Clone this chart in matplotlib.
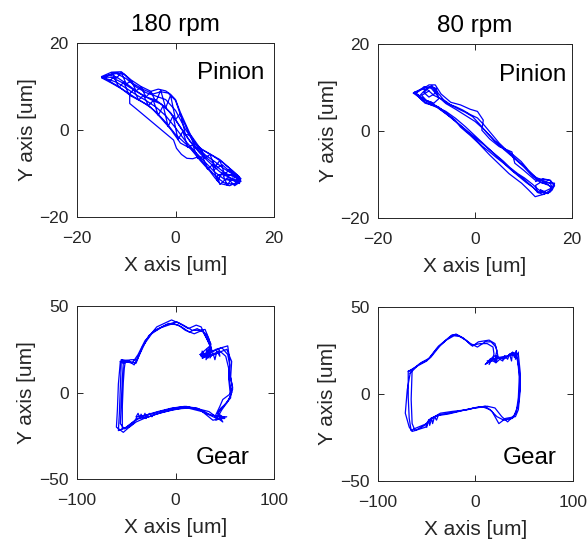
import matplotlib
matplotlib.use("Agg")
import matplotlib.pyplot as plt

plt.rcParams['font.family'] = ['Liberation Sans', 'DejaVu Sans']

GAP = float('nan')  # pen-up between recorded segments

# Pinion orbit, 180 rpm (several revolutions, um)
pin180_x = [-15, -13, -11, -9, -7, -5, -3.5, -2, -1, 0, 1, 2, 3, 5, 7, 9, 11, 13, 12.5, 11, 9, 8, 7, 5, 3, 1, -1, -3, -5, -7, -9, -11, -13, -15,
            -14, -12, -10, -8, -6, -4, -2, 0, 2, 4, 6, 8, 10, 12, 13, 12, 10, 8, 6, 4, 2, 0, -2, -4, -6, -8, -10, -12, -14,
            -15, -13.5, -12, -10, -8, -6, -4, -2, 0, 1.5, 3, 4.5, 6, 8, 10, 12, 13.2, 12, 10, 8.5, 7, 5.5, 4, 2, 0, -2, -4, -6, -8, -10, -12, -14, -15,
            -14.5, -12.5, -10.5, -8.5, -6.5, -4.5, -3, -1.5, 0, 1, 2.5, 4, 5.5, 7.5, 9.5, 11.5, 13.3, 12.5, 11, 9, 7, 5, 3, 1, -1, -3, -5, -7, -9, -11, -13, -14.5, GAP,
            -13, -12, -11, -10, -9, -8, -7, -6, -5, -4, -3, -2, -1, 0, 1, 2, 3, 4, 5, 6, 7, 8, 9, 10, 11, 12, GAP,
            12.5, 11.5, 10.5, 9.5, 8.5, 7.5, 6.5, 5.5, 4.5, 3.5, 2.5, 1.5, 0.5, -0.5, -1.5, -2.5, -3.5, -4.5, -5.5, -6.5, -7.5, -8.5, -9.5, -10.5, -11.5, -12.5, -13.5, GAP,
            8, 9.5, 11, 12.5, 13.3, 12, 10.5, 9, 8.5, 10, 11.5, 13, 12, 10, GAP,
            -9.3, -9.3, -8, -6, -4, -2, -0.4, 0.2, 1.2, 2.3, 3.5, 4.5]
pin180_y = [12.3, 13.3, 13.4, 11.5, 10, 8.9, 9.4, 9, 8.2, 7, 4, 1.5, -1, -4.2, -5.5, -6.8, -8.8, -10.8, -12, -12.8, -12.3, -11, -9.5, -7, -4.2, -3, 0.2, 2.8, 5.2, 6.6, 7.8, 9.5, 10.8, 12,
            12.5, 13, 11.8, 9.9, 8.6, 7.8, 7, 4.5, 0.2, -3.3, -5.7, -7.3, -9, -10.4, -11, -11.6, -11.4, -9.7, -7.4, -5, -2.5, 0.5, 3.3, 5.3, 6.8, 8.1, 9.6, 11, 11.8,
            12.1, 12.6, 12.2, 10.7, 9, 7.6, 6.9, 5.2, 2.4, -0.2, -2.6, -4.4, -6.1, -8, -9.9, -10.8, -11.6, -12.5, -12.2, -11, -9.2, -7.3, -5.2, -3.1, -1, 1.8, 4.2, 6, 7.3, 8.8, 10.3, 11.6, 12.1,
            12, 13.2, 12.9, 10.6, 9.3, 8.3, 8.8, 8.5, 6.8, 3.5, -0.2, -3, -4.6, -5.9, -7.4, -9.3, -11.2, -11.8, -11, -9.6, -7.6, -5.4, -2.7, 0.6, 4, 6, 7, 8.2, 9.6, 11, 12.1, 12.2, GAP,
            13.1, 11.9, 13.2, 10.6, 11.3, 9, 9.9, 7.6, 8.8, 6.5, 9.1, 5.1, 8, 2.4, 3.8, -1, -1.2, -4.1, -4.3, -6.5, -5.6, -8.5, -7, -10.2, -9, -11, GAP,
            -12, -11, -12.7, -9.9, -11.7, -8, -9, -6.1, -6.5, -3.4, -4, -0.3, -2.2, 3.3, 0.8, 5.6, 3.4, 6.8, 5.6, 8, 6.9, 9.3, 8.2, 11, 9.8, 12.2, 11.2, GAP,
            -9, -8, -9.5, -10.5, -11.8, -12.8, -11, -12.5, -10.5, -9.8, -11.5, -12.3, -10.2, -10.5, GAP,
            8.3, 6.1, 4.9, 3, 1.1, -0.8, -2.3, -4.2, -5.6, -6.5, -6.6, -6.2]

# Pinion orbit, 80 rpm
pin80_x = [-12.7, -11, -9.5, -8.2, -7, -5, -3, -1, 0.5, 1.7, 1.4, 3, 5, 7.6, 8.2, 10, 12.4, 14, 15.5, 16.2, 15.8, 14, 12.4, 11, 9.6, 7, 5.5, 3, 0.7, -1, -3, -4.1, -6, -7.6, -9, -10.3, -11.7, -12.7,
           -12, -10.5, -9, -7.5, -6, -4, -2, 0, 2, 4, 6, 8, 10, 12, 13.5, 15, 16, 15, 13, 11.5, 10, 8, 6, 4, 2, 0, -2, -4, -6, -8, -10, -12,
           -11.5, -10, -8.8, -7.8, -6.5, -5, -3.5, -2, -0.5, 1, 2.5, 4, 5.5, 7, 8.5, 10, 11.5, 13, 14.5, 16.4, 16, 14.5, 13, 12, 10.5, 9, 7.5, 6, 4.5, 3, 1.5, 0, -1.5, -3, -4.5, -6, -7.5, -9, -10.5, -11.5,
           -12.5, -11, -9.8, -8.5, -7, -5.5, -4, -2.5, -1, 0.5, 2, 3.5, 5, 6.5, 8, 9.5, 11, 12.5, 14, 15.5, 16, 14.8, 13.2, 11.8, 10.2, 8.8, 7.2, 5.8, 4.2, 2.8, 1.2, -0.3, -1.8, -3.3, -4.8, -6.3, -7.8, -9.3, -10.8, -12.5, GAP,
           -9, -8, -9.5, -10.5, -9.5, -8, -7.5, -8.5, -10, -11, -9.5, GAP,
           12.5, 14, 15.5, 16.4, 15.5, 14, 12.8, 12.5, 13.5, 15, 16, 15, 13.5]
pin80_y = [8.7, 9.5, 10.6, 10.6, 8.5, 6.6, 6, 5, 4.5, 2.5, 0.2, -1.8, -3.6, -4.8, -7.4, -9, -11.3, -11, -11.3, -12.3, -13.6, -14.6, -15.1, -13.5, -12, -9.8, -8.2, -5.5, -2.8, -1, 0.9, 2.5, 4.2, 5.6, 6, 6.4, 7.9, 8.7,
           8.8, 10.2, 9.8, 7.8, 6.3, 5, 3.6, 2.2, 0.2, -2.2, -4.3, -6.2, -8.2, -10.5, -11.8, -12.4, -13, -14.2, -14, -12.5, -11, -9.4, -7.4, -5.3, -3.2, -1.1, 1, 2.9, 4.5, 5.6, 6.9, 8.5,
           8, 9.8, 10.3, 9, 7.2, 6, 5.1, 4.3, 3.3, 1.5, -0.5, -2.2, -3.6, -5, -6.5, -8, -9.8, -11.2, -11.8, -12, -13, -13.8, -14.2, -13, -11.8, -10.4, -9, -7.5, -6.2, -4.8, -3.5, -1.8, -0.3, 1.2, 2.6, 4, 5.3, 6.6, 7.2, 8,
           8.9, 9.7, 9.5, 8.2, 7.4, 6.2, 5.6, 4.8, 3.8, 3, 1.2, -0.8, -2.8, -4.4, -5.6, -7, -9, -10.6, -11.4, -12, -13.2, -14.3, -13.6, -12.2, -10.8, -9.8, -8.4, -6.9, -5.4, -4.1, -2.6, -1.2, 0.2, 1.6, 3, 4.2, 5.4, 6.1, 7, 8.9, GAP,
           10.4, 8.8, 7.8, 8.8, 10.2, 9.8, 7.4, 6.4, 7, 8.2, 9.2, GAP,
           -11.6, -11.1, -11.4, -12.6, -14, -14.6, -14, -12.5, -11.8, -12.2, -13.4, -14.4, -13.5]

# Gear orbit, 180 rpm
gear180_x = [-56, -45, -39, -29, -19, -4, 4, 13, 21, 26, 31, 35, 25, 31, 41, 53, 55, 55, 58, 55, 48, 45, 40, 52, 38, 25, 11, -2, -16, -29, -39, -43, -53, -60, -59, -58, -56,
             -53, -47, -40, -34, -27, -15, -2, 6, 14, 22, 28, 33, 36, 30, 27, 37, 45, 51, 54, 55, 57, 54, 50, 44, 41, 49, 36, 22, 9, -4, -18, -30, -38, -45, -52, -56, -55, -54, -53,
             -55, -48, -42, -33, -23, -10, 1, 8, 17, 24, 30, 34, 37, 33, 28, 35, 43, 52, 57, 56, 58, 56, 52, 46, 43, 50, 42, 27, 13, 0, -14, -27, -37, -41, -50, -58, -57, -56, -55,
             -51, -44, -38, -31, -21, -7, 3, 10, 19, 27, 32, 36, 32, 26, 39, 47, 53, 55, 54, 56, 52, 47, 44, 48, 34, 20, 7, -6, -20, -32, -40, -47, -54, -54, -53, -52, -51, GAP,
             25, 28, 27, 30, 32, 31, 34, 36, 35, 38, 40, 42, 45, 44, GAP,
             -22, -24, -26, -28, -30, -31, -33, -35, -36, -38, -40]
gear180_y = [18, 19, 19, 31, 38, 42, 40, 37, 39, 38, 32, 27, 22, 22, 25, 27, 19, 11, 3, -1, -4, -8, -14, -14, -16, -10, -8, -9, -11, -13, -14, -18, -23, -20, -10, 5, 18,
             17, 18, 17, 26, 33, 37.5, 40, 38, 35, 37, 35, 30, 26, 21, 20, 22, 24, 21, 14, 6, 0, -4, -7, -11, -16, -14, -13, -9, -8, -9, -11, -13, -15, -18, -21, -18, -5, 8, 17,
             19, 18.5, 16, 27, 35, 39, 41, 39, 36, 36, 36.5, 31, 24, 20, 23, 21, 23, 25, 18, 9, 2, -2, -6, -9, -12, -15, -15, -11, -9, -9.5, -11.5, -14, -15, -16, -20, -22, -12, 3, 19,
             18, 17, 22, 30, 36, 40, 39, 36, 34, 36, 33, 28, 23, 21, 24, 26, 22, 16, 8, -3, -6, -10, -13, -17, -11, -9, -9, -10.5, -12.5, -15, -17, -20, -21, -8, 6, 14, 18, GAP,
             22, 20, 24, 21, 25, 19, 22, 26, 20, 23, 19, 24, 21, 25, GAP,
             -12.5, -14, -12, -13, -15, -12, -14.5, -12.5, -15, -12, -14]

# Gear orbit, 80 rpm
gear80_x = [-67, -58, -48, -38, -24, -19, -10, -3, 3, 14, 20, 22, 20, 14, 10, 17, 31, 38, 44, 46, 46, 44, 41, 31, 24, 17, 10, 0, -10, -27, -38, -48, -51, -65, -68, -72, -70, -67,
            -65, -56, -46, -36, -26, -20, -12, -4, 5, 12, 18, 19, 17, 12, 24, 33, 40, 43, 45, 44, 42, 38, 29, 22, 15, 8, -2, -13, -28, -40, -46, -52, -62, -65, -66, -65,
            -69, -60, -50, -40, -30, -22, -15, -5, 2, 10, 16, 21, 23, 21, 15, 20, 29, 36, 42, 45, 45.5, 44, 40, 33, 27, 20, 12, 2, -8, -24, -36, -45, -50, -63, -66, -68, -69, -69, GAP,
            12, 15, 14, 18, 20, 22, 21, 25, 28, 30, 33, 35, 37, 38, 40, 42, 41, 44, GAP,
            -38, -40, -42, -44, -45, -47, -48, -50]
gear80_y = [12, 17, 20, 27.5, 34, 34, 31, 27.5, 30, 31, 29, 25, 20, 19, 17, 20, 21, 24, 23, 12, 2.5, -9, -13, -14, -17, -10, -7, -8, -9, -11, -12, -15, -19, -21.5, -19, -11, 2.5, 12,
            14, 18, 21, 28, 33, 34.5, 32, 28, 29, 29, 27, 23, 19, 19, 21, 22, 23, 21, 10, -2, -10, -14, -15, -13, -9, -7.5, -8, -9.5, -11.5, -12.5, -14, -18, -21, -17, -3, 14,
            13, 16, 19, 26, 31, 33.5, 33, 29, 27, 30, 30, 27, 22, 18, 20, 22, 20, 23, 22, 14, 3, -6, -12, -16, -13, -8, -7, -7.5, -9, -10, -11, -14, -17, -20, -21, -14, -2, 13, GAP,
            18, 20, 17, 21, 19, 22, 18, 20, 19, 22, 20, 23, 19, 24, 21, 25, 20, 24, GAP,
            -12, -15, -13, -17, -14, -18, -15, -19]

panels = [
    (pin180_x, pin180_y, [-20, 20], [-20, 20], 'Pinion', [0.1312, 0.5996, 0.3356, 0.321]),
    (pin80_x, pin80_y, [-20, 20], [-20, 20], 'Pinion', [0.644, 0.5978, 0.3305, 0.321]),
    (gear180_x, gear180_y, [-100, 100], [-50, 50], 'Gear', [0.1312, 0.1162, 0.3356, 0.319]),
    (gear80_x, gear80_y, [-100, 100], [-50, 50], 'Gear', [0.644, 0.1125, 0.332, 0.321]),
]
titles = ['180 rpm', '80 rpm', None, None]
label_pos = [(0.949, 0.828), (0.969, 0.822), (0.878, 0.121), (0.918, 0.132)]

fig = plt.figure(figsize=(5.87, 5.42), dpi=100)
edge = '#262626'

for i, (xs, ys, xl, yl, name, rect) in enumerate(panels):
    ax = fig.add_axes(rect)
    ax.plot(xs, ys, color=(0, 0, 1), linewidth=0.9)
    ax.set_xlim(xl)
    ax.set_ylim(yl)
    ax.set_xticks([xl[0], 0, xl[1]])
    ax.set_yticks([yl[0], 0, yl[1]])
    ax.tick_params(direction='in', top=True, right=True, length=4, width=0.7,
                   colors=edge, labelsize=12.5)
    ax.tick_params(axis='x', pad=10)
    ax.tick_params(axis='y', pad=6)
    for sp in ax.spines.values():
        sp.set_color(edge)
        sp.set_linewidth(0.7)
    ax.set_xlabel('X axis [um]', fontsize=15, color=edge, labelpad=7)
    ax.set_ylabel('Y axis [um]', fontsize=15, color=edge, labelpad=2)
    if titles[i]:
        ax.set_title(titles[i], fontsize=17.5, color='#000000', pad=9)
    lx, ly = label_pos[i]
    ax.text(lx, ly, name, transform=ax.transAxes, ha='right', va='center', fontsize=17.5)

fig.savefig('out.png', dpi=100)
